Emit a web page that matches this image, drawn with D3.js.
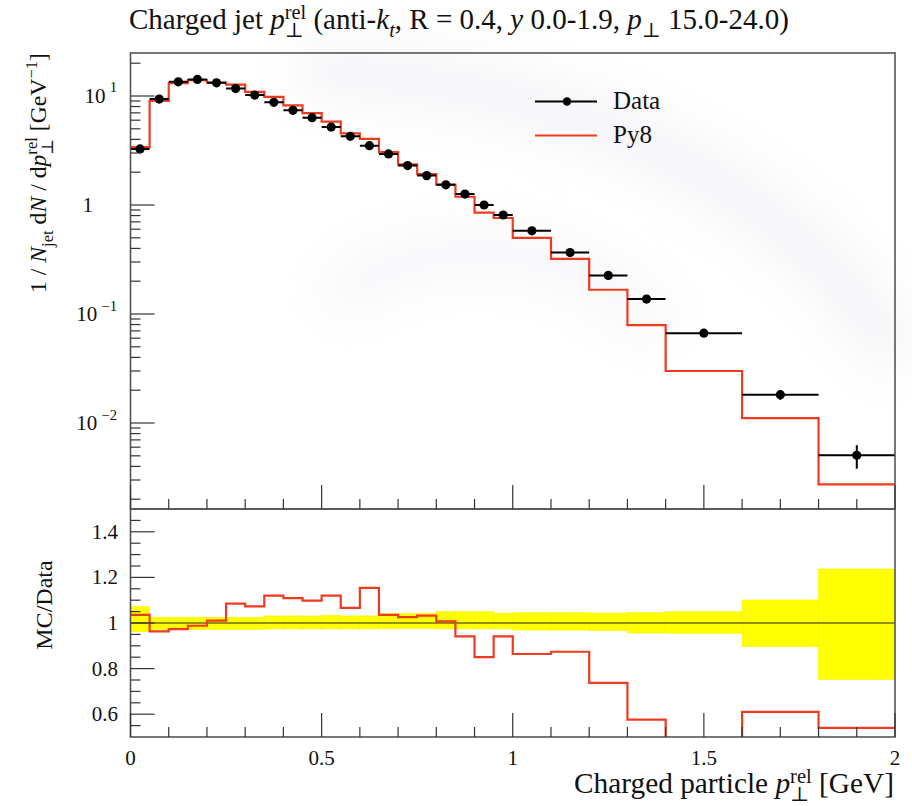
<!DOCTYPE html>
<html>
<head>
<meta charset="utf-8">
<script src="https://cdn.jsdelivr.net/npm/d3@7"></script>
<style>
  body { margin: 0; background: #fff; }
  svg { display: block; }
  text { font-family: "Liberation Serif", "DejaVu Serif", serif; fill: #111; white-space: pre; }
</style>
</head>
<body>
<div id="chart"></div>
<script>
// bin edges of the histogram (GeV)
const binEdges = [0, 0.05, 0.1, 0.15, 0.2, 0.25, 0.3, 0.35, 0.4, 0.45, 0.5, 0.55, 0.6, 0.65, 0.7,
    0.75, 0.8, 0.85, 0.9, 0.95, 1.0, 1.1, 1.2, 1.3, 1.4, 1.6, 1.8, 2.0];

// measured data, 1/Njet dN/dpTrel
const dataValues = [3.27, 9.38, 13.5, 14.2, 13.2, 11.7, 10.2, 8.75, 7.39, 6.33, 5.19, 4.27, 3.50, 2.94,
    2.30, 1.86, 1.53, 1.26, 1.0, 0.81, 0.58, 0.366, 0.226, 0.137, 0.0667, 0.0182, 0.00506];

// relative uncertainty of the data (up / down), as seen in the yellow band
const errUp = [0.072, 0.025, 0.025, 0.025, 0.025, 0.025, 0.025, 0.031, 0.031, 0.031, 0.034, 0.031, 0.031,
    0.042, 0.042, 0.042, 0.05, 0.05, 0.05, 0.043, 0.045, 0.045, 0.044, 0.046, 0.05, 0.101, 0.237];
const errDown = [0.038, 0.028, 0.028, 0.028, 0.028, 0.028, 0.028, 0.026, 0.026, 0.026, 0.026, 0.026, 0.026,
    0.024, 0.024, 0.024, 0.026, 0.026, 0.026, 0.026, 0.031, 0.031, 0.034, 0.044, 0.045, 0.104, 0.247];

// Pythia 8 prediction
const mcValues = [3.39, 9.03, 13.1, 14.0, 13.3, 12.7, 10.9, 9.8, 8.2, 6.95, 5.81, 4.55, 4.04, 3.05,
    2.36, 1.92, 1.54, 1.19, 0.85, 0.76, 0.50, 0.32, 0.167, 0.079, 0.030, 0.0111, 0.00273];

// MC / Data
const ratioValues = [1.036, 0.963, 0.973, 0.988, 1.01, 1.085, 1.073, 1.12, 1.109, 1.098, 1.12, 1.066, 1.154,
    1.036, 1.026, 1.032, 1.007, 0.941, 0.85, 0.941, 0.864, 0.874, 0.737, 0.576, 0.45, 0.61, 0.54];

const xTickValues = [0, 0.5, 1, 1.5, 2];
const xTickLabels = ["0", "0.5", "1", "1.5", "2"];
const mainTickPowers = [1, 0, -1, -2];
const ratioTickValues = [0.6, 0.8, 1.0, 1.2, 1.4];
const ratioTickLabels = ["0.6", "0.8", "1", "1.2", "1.4"];

const W = 912, H = 806;
const left = 130.5, right = 895, mainTop = 53, mainBottom = 509, ratioBottom = 737;
const red = "#ee3b1f";

const svg = d3.select("#chart").append("svg").attr("width", W).attr("height", H);

// faint watermark swoosh in the background
const defs = svg.append("defs");
defs.append("filter").attr("id", "blur").attr("x", "-50%").attr("y", "-50%").attr("width", "200%").attr("height", "200%")
    .append("feGaussianBlur").attr("stdDeviation", 24);
defs.append("clipPath").attr("id", "clipMain").append("rect")
    .attr("x", left).attr("y", mainTop).attr("width", right - left).attr("height", mainBottom - mainTop);
defs.append("clipPath").attr("id", "clipRatio").append("rect")
    .attr("x", left).attr("y", mainBottom).attr("width", right - left).attr("height", ratioBottom - mainBottom);

const wm = svg.append("g").attr("filter", "url(#blur)").attr("opacity", 0.3);
wm.append("path").attr("d", "M300,70 C560,80 780,170 900,360")
    .attr("fill", "none").attr("stroke", "#dcdae4").attr("stroke-width", 55);
wm.append("path").attr("d", "M330,300 C430,230 560,230 660,330")
    .attr("fill", "none").attr("stroke", "#e2e0ea").attr("stroke-width", 45);

// scales
const x = d3.scaleLinear().domain([0, 2]).range([left, right]);
const yMain = d3.scaleLog().domain([0.001626, 24.8]).range([mainBottom, mainTop]);
const yRatio = d3.scaleLinear().domain([0.5, 1.5]).range([ratioBottom, mainBottom]);

// rich text helper: parts with italic, sup, sub and stacked sub/sup
function rich(parent, parts, size) {
    const t = parent.append("text").attr("font-size", size);
    let cx = 0, lastStart = 0;
    parts.forEach(p => {
        const start = p.stack ? lastStart : cx;
        const small = p.sup || p.sub;
        const sp = t.append("tspan")
            .attr("x", start)
            .attr("y", p.sup ? -(p.raise || 0.4) * size : p.sub ? 0.28 * size : 0)
            .attr("font-size", small ? size * (p.scale || 0.7) : size)
            .text(p.t);
        if (p.it) sp.attr("font-style", "italic");
        const w = sp.node().getComputedTextLength();
        cx = p.stack ? Math.max(cx, start + w) : start + w;
        lastStart = start;
    });
    return cx;
}

// place rich text so its width fits a target width
function placeRich(parts, size, opts) {
    const g = svg.append("g");
    const w = rich(g, parts, size);
    const s = opts.width ? opts.width / w : 1;
    const ww = w * s;
    const dx = opts.anchor === "end" ? -ww : opts.anchor === "middle" ? -ww / 2 : 0;
    g.attr("transform", `translate(${opts.x},${opts.y}) rotate(${opts.rotate || 0}) translate(${dx},0) scale(${s})`);
    return g;
}

// ---------- main panel ----------
const main = svg.append("g").attr("clip-path", "url(#clipMain)");

const stepPts = (vals) => {
    const pts = vals.map((v, i) => [binEdges[i], v]);
    pts.push([binEdges[binEdges.length - 1], vals[vals.length - 1]]);
    return pts;
};

main.append("path")
    .attr("d", d3.line().curve(d3.curveStepAfter).x(d => x(d[0])).y(d => yMain(d[1]))(stepPts(mcValues)))
    .attr("fill", "none").attr("stroke", red).attr("stroke-width", 2.2);

const pts = main.append("g").selectAll("g").data(dataValues).join("g");
pts.append("line")
    .attr("x1", (d, i) => x(binEdges[i])).attr("x2", (d, i) => x(binEdges[i + 1]))
    .attr("y1", d => yMain(d)).attr("y2", d => yMain(d))
    .attr("stroke", "#000").attr("stroke-width", 2);
pts.append("line")
    .attr("x1", (d, i) => x((binEdges[i] + binEdges[i + 1]) / 2)).attr("x2", (d, i) => x((binEdges[i] + binEdges[i + 1]) / 2))
    .attr("y1", (d, i) => yMain(d * (1 + errUp[i]))).attr("y2", (d, i) => yMain(d * (1 - errDown[i])))
    .attr("stroke", "#000").attr("stroke-width", 2);
pts.append("circle")
    .attr("cx", (d, i) => x((binEdges[i] + binEdges[i + 1]) / 2)).attr("cy", d => yMain(d))
    .attr("r", 4.6).attr("fill", "#000");

// ---------- ratio panel ----------
const ratio = svg.append("g").attr("clip-path", "url(#clipRatio)");
ratio.append("g").selectAll("rect").data(dataValues).join("rect")
    .attr("x", (d, i) => x(binEdges[i])).attr("width", (d, i) => x(binEdges[i + 1]) - x(binEdges[i]))
    .attr("y", (d, i) => yRatio(1 + errUp[i])).attr("height", (d, i) => yRatio(1 - errDown[i]) - yRatio(1 + errUp[i]))
    .attr("fill", "#ffff00").attr("stroke", "#f4f400").attr("stroke-width", 0.6);
ratio.append("line").attr("x1", left).attr("x2", right).attr("y1", yRatio(1)).attr("y2", yRatio(1))
    .attr("stroke", "#222").attr("stroke-width", 1.1);
ratio.append("path")
    .attr("d", d3.line().curve(d3.curveStepAfter).x(d => x(d[0])).y(d => yRatio(d[1]))(stepPts(ratioValues)))
    .attr("fill", "none").attr("stroke", red).attr("stroke-width", 2.2);

// ---------- frames and ticks ----------
const axes = svg.append("g").attr("stroke", "#333").attr("stroke-width", 1.2);
axes.append("rect").attr("x", left).attr("y", mainTop).attr("width", right - left).attr("height", mainBottom - mainTop)
    .attr("fill", "none").attr("stroke", "#555").attr("stroke-width", 1.6);
axes.append("rect").attr("x", left).attr("y", mainBottom).attr("width", right - left).attr("height", ratioBottom - mainBottom)
    .attr("fill", "none").attr("stroke", "#555").attr("stroke-width", 1.6);

// x ticks (pointing up from the bottom of each panel)
const xMinor = d3.range(0, 21).map(i => i / 10);
[mainBottom, ratioBottom].forEach(yb => {
    xMinor.forEach(v => {
        const major = Math.abs(v * 2 - Math.round(v * 2)) < 1e-9;
        axes.append("line").attr("x1", x(v)).attr("x2", x(v)).attr("y1", yb).attr("y2", yb - (major ? 24 : 10));
    });
});

// main y ticks (log)
const [lo, hi] = yMain.domain();
for (let p = -3; p <= 1; p++) {
    for (let k = 1; k <= 9; k++) {
        const v = k * Math.pow(10, p);
        if (v < lo || v > hi) continue;
        axes.append("line").attr("x1", left).attr("x2", left + (k === 1 ? 24 : 10))
            .attr("y1", yMain(v)).attr("y2", yMain(v));
    }
}
// ratio y ticks
d3.range(11, 30).map(i => i / 20).forEach(v => {
    const major = ratioTickValues.some(t => Math.abs(t - v) < 1e-9);
    axes.append("line").attr("x1", left).attr("x2", left + (major ? 24 : 10))
        .attr("y1", yRatio(v)).attr("y2", yRatio(v));
});

// tick labels
const tickSize = 21;
mainTickPowers.forEach(p => {
    if (p === 0) {
        svg.append("text").attr("x", 93).attr("y", yMain(1) + 7).attr("text-anchor", "end")
            .attr("font-size", tickSize).text("1");
    } else {
        placeRich([{t: "10"}, {t: "\u2009"}, {t: p < 0 ? "\u2212" + (-p) : String(p), sup: true, raise: 0.5}], tickSize,
            {x: 117, y: yMain(Math.pow(10, p)) + 7, anchor: "end"});
    }
});
ratioTickValues.forEach((v, i) => {
    svg.append("text").attr("x", 118).attr("y", yRatio(v) + 7).attr("text-anchor", "end")
        .attr("font-size", tickSize).text(ratioTickLabels[i]);
});
xTickValues.forEach((v, i) => {
    svg.append("text").attr("x", x(v)).attr("y", 765).attr("text-anchor", "middle")
        .attr("font-size", tickSize).text(xTickLabels[i]);
});

// ---------- titles ----------
placeRich([
    {t: "Charged jet "}, {t: "p", it: true}, {t: "rel", sup: true, raise: 0.36}, {t: "\u22a5", sub: true, stack: true},
    {t: " (anti-"}, {t: "k", it: true}, {t: "t", it: true, sub: true}, {t: ", R = 0.4, "},
    {t: "y", it: true}, {t: " 0.0-1.9, "}, {t: "p", it: true}, {t: "\u22a5", sub: true}, {t: " 15.0-24.0)"}
], 22, {x: 129, y: 29, width: 660});

placeRich([
    {t: "1 / "}, {t: "N", it: true}, {t: "jet", sub: true}, {t: " d"}, {t: "N", it: true}, {t: " / d"},
    {t: "p", it: true}, {t: "rel", sup: true}, {t: "\u22a5", sub: true, stack: true}, {t: " [GeV"},
    {t: "\u22121", sup: true}, {t: "]"}
], 23, {x: 46, y: 53, rotate: -90, anchor: "end", width: 240});

placeRich([{t: "MC/Data"}], 24, {x: 52, y: 605, rotate: -90, anchor: "middle"});

placeRich([
    {t: "Charged particle "}, {t: "p", it: true}, {t: "rel", sup: true, raise: 0.34}, {t: "\u22a5", sub: true, stack: true},
    {t: " [GeV]"}
], 24, {x: 894, y: 793, anchor: "end", width: 320});

// ---------- legend ----------
const leg = svg.append("g");
leg.append("line").attr("x1", 535).attr("x2", 597).attr("y1", 101.5).attr("y2", 101.5)
    .attr("stroke", "#000").attr("stroke-width", 2);
leg.append("circle").attr("cx", 567).attr("cy", 101.5).attr("r", 4.2).attr("fill", "#000");
leg.append("text").attr("x", 613).attr("y", 109).attr("font-size", 25).text("Data");
leg.append("line").attr("x1", 535).attr("x2", 597).attr("y1", 135.5).attr("y2", 135.5)
    .attr("stroke", red).attr("stroke-width", 2.2);
leg.append("text").attr("x", 613).attr("y", 143).attr("font-size", 25).text("Py8");
</script>
</body>
</html>
